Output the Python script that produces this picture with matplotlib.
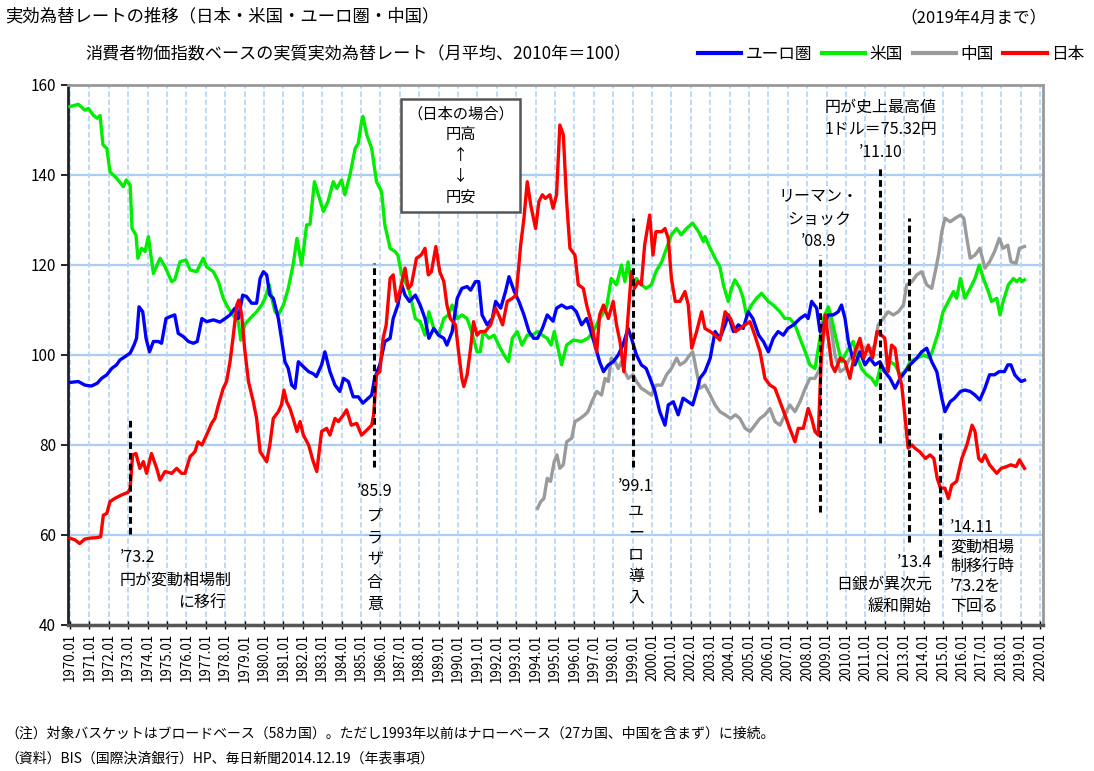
import matplotlib
matplotlib.use("Agg")
from matplotlib import pyplot as plt
from matplotlib.lines import Line2D

plt.rcParams['font.family'] = ['Noto Sans CJK JP', 'DejaVu Sans']

# ---- data (year as decimal, index 2010=100) ----
us_year = [1970.0, 1970.43, 1970.77, 1970.95, 1971.2, 1971.4, 1971.55, 1971.7, 1971.9, 1972.06,
           1972.4, 1972.75, 1972.9, 1973.1, 1973.2, 1973.4, 1973.5, 1973.7, 1973.87, 1974.04,
           1974.3, 1974.64, 1974.9, 1975.24, 1975.4, 1975.67, 1975.98, 1976.19, 1976.53, 1976.7,
           1976.87, 1977.04, 1977.39, 1977.65, 1977.9, 1978.16, 1978.4, 1978.68, 1978.8, 1979.0,
           1979.28, 1979.62, 1979.88, 1980.05, 1980.27, 1980.4, 1980.57, 1980.74, 1981.0, 1981.25,
           1981.5, 1981.7, 1981.94, 1982.2, 1982.37, 1982.6, 1982.8, 1983.06, 1983.3, 1983.57,
           1983.75, 1984.0, 1984.17, 1984.43, 1984.7, 1984.86, 1985.03, 1985.1, 1985.3, 1985.55,
           1985.8, 1986.06, 1986.23, 1986.5, 1986.75, 1986.9, 1987.1, 1987.35, 1987.5, 1987.8,
           1988.05, 1988.3, 1988.5, 1988.75, 1989.0, 1989.27, 1989.5, 1989.7, 1989.96, 1990.2,
           1990.47, 1990.7, 1990.98, 1991.15, 1991.3, 1991.6, 1991.86, 1992.1, 1992.37, 1992.6,
           1992.8, 1993.05, 1993.3, 1993.57, 1993.83, 1994.1, 1994.35, 1994.6, 1994.8, 1994.96,
           1995.08, 1995.34, 1995.6, 1995.94, 1996.37, 1996.7, 1996.97, 1997.3, 1997.65, 1997.9,
           1998.17, 1998.43, 1998.6, 1998.77, 1998.94, 1999.2, 1999.45, 1999.7, 1999.97, 2000.2,
           2000.5, 2000.75, 2001.0, 2001.27, 2001.5, 2001.78, 2002.1, 2002.4, 2002.65, 2002.73,
           2003.0, 2003.25, 2003.5, 2003.68, 2003.93, 2004.1, 2004.27, 2004.53, 2004.7, 2004.87,
           2005.13, 2005.39, 2005.65, 2005.99, 2006.25, 2006.6, 2006.85, 2007.1, 2007.37, 2007.63,
           2007.9, 2008.14, 2008.4, 2008.66, 2008.83, 2009.09, 2009.26, 2009.52, 2009.77, 2010.03,
           2010.37, 2010.55, 2010.8, 2011.06, 2011.32, 2011.55, 2011.75, 2012.0, 2012.27, 2012.53,
           2012.79, 2013.05, 2013.3, 2013.65, 2014.0, 2014.33, 2014.5, 2014.77, 2015.0, 2015.28,
           2015.54, 2015.7, 2015.9, 2016.13, 2016.4, 2016.65, 2016.87, 2017.08, 2017.34, 2017.5,
           2017.77, 2017.94, 2018.1, 2018.37, 2018.63, 2018.8, 2018.97, 2019.06, 2019.2]
us_val = [155.2, 155.7, 154.4, 154.8, 153.3, 152.6, 153.2, 146.7, 145.9, 140.7,
          139.3, 137.4, 138.9, 137.8, 128.1, 126.7, 121.5, 123.7, 123.0, 126.3,
          118.1, 121.5, 119.6, 116.3, 116.7, 120.7, 121.1, 118.9, 118.5, 120.0,
          121.5, 119.6, 118.5, 116.3, 112.6, 110.4, 108.9, 107.4, 103.3, 106.7,
          108.1, 109.6, 111.1, 112.6, 115.6, 112.6, 109.6, 108.9, 111.1, 114.8,
          120.0, 125.9, 120.0, 128.9, 129.0, 138.5, 135.6, 131.9, 134.1, 138.5,
          137.0, 138.9, 135.6, 140.0, 145.9, 147.0, 151.9, 153.0, 148.9, 145.9,
          138.5, 136.3, 128.9, 123.7, 123.0, 122.2, 117.8, 115.6, 114.1, 108.1,
          107.4, 104.4, 109.6, 105.9, 104.4, 108.1, 108.9, 111.1, 108.1, 108.9,
          108.1, 105.2, 100.7, 100.7, 105.2, 103.7, 104.4, 102.2, 100.0, 98.5,
          103.7, 105.2, 102.2, 104.4, 104.4, 105.2, 104.4, 103.7, 102.2, 105.2,
          103.0, 97.8, 102.2, 103.3, 103.0, 103.7, 105.2, 108.1, 110.4, 117.0,
          115.6, 120.0, 116.3, 120.7, 115.6, 117.0, 115.6, 114.8, 115.6, 118.5,
          120.7, 123.7, 126.7, 128.1, 126.7, 128.1, 129.3, 127.4, 125.2, 126.3,
          123.7, 121.5, 119.6, 115.6, 111.9, 114.8, 116.7, 114.8, 112.6, 108.9,
          111.1, 112.6, 113.7, 111.9, 111.1, 109.6, 108.1, 108.1, 106.7, 103.7,
          100.7, 97.8, 97.0, 103.7, 108.1, 110.7, 108.1, 103.0, 98.5, 100.7,
          103.0, 100.0, 97.0, 95.6, 94.8, 93.3, 97.0, 96.3, 98.5, 97.8,
          95.6, 96.3, 98.5, 99.3, 100.0, 99.3, 101.5, 105.2, 109.6, 111.9,
          114.1, 112.6, 117.0, 112.6, 114.8, 117.0, 120.0, 117.0, 114.1, 111.9,
          112.6, 108.9, 111.9, 115.6, 117.0, 116.3, 117.0, 116.3, 116.7]

euro_year = [1970.0, 1970.43, 1970.77, 1971.1, 1971.4, 1971.63, 1971.9, 1972.15, 1972.4, 1972.58,
             1972.83, 1973.1, 1973.3, 1973.43, 1973.56, 1973.75, 1973.92, 1974.1, 1974.3, 1974.55,
             1974.72, 1974.95, 1975.15, 1975.4, 1975.58, 1975.84, 1976.1, 1976.36, 1976.56, 1976.8,
             1977.04, 1977.4, 1977.73, 1978.0, 1978.25, 1978.5, 1978.68, 1978.9, 1979.1, 1979.36,
             1979.62, 1979.8, 1979.97, 1980.14, 1980.3, 1980.48, 1980.74, 1980.9, 1981.08, 1981.25,
             1981.43, 1981.6, 1981.77, 1982.03, 1982.3, 1982.55, 1982.7, 1982.97, 1983.14, 1983.4,
             1983.66, 1983.91, 1984.1, 1984.35, 1984.6, 1984.86, 1985.1, 1985.37, 1985.55, 1985.7,
             1985.97, 1986.23, 1986.5, 1986.66, 1986.9, 1987.1, 1987.27, 1987.5, 1987.8, 1988.05,
             1988.3, 1988.5, 1988.75, 1989.0, 1989.27, 1989.43, 1989.7, 1989.96, 1990.2, 1990.47,
             1990.65, 1990.9, 1991.07, 1991.24, 1991.5, 1991.77, 1991.94, 1992.2, 1992.45, 1992.63,
             1992.9, 1993.14, 1993.4, 1993.66, 1993.9, 1994.1, 1994.35, 1994.6, 1994.9, 1995.08,
             1995.34, 1995.6, 1995.86, 1996.1, 1996.37, 1996.63, 1996.8, 1997.06, 1997.3, 1997.5,
             1997.75, 1998.0, 1998.26, 1998.5, 1998.77, 1998.94, 1999.2, 1999.45, 1999.7, 1999.9,
             2000.15, 2000.4, 2000.67, 2000.84, 2001.1, 2001.35, 2001.6, 2001.87, 2002.1, 2002.3,
             2002.47, 2002.73, 2003.0, 2003.25, 2003.5, 2003.77, 2003.93, 2004.2, 2004.45, 2004.7,
             2004.96, 2005.2, 2005.5, 2005.74, 2006.0, 2006.25, 2006.5, 2006.77, 2007.0, 2007.3,
             2007.63, 2007.9, 2008.05, 2008.23, 2008.49, 2008.66, 2008.83, 2009.09, 2009.35, 2009.6,
             2009.77, 2009.95, 2010.12, 2010.3, 2010.46, 2010.72, 2010.98, 2011.23, 2011.49, 2011.75,
             2012.0, 2012.27, 2012.53, 2012.79, 2013.05, 2013.3, 2013.65, 2013.9, 2014.16, 2014.42,
             2014.68, 2014.94, 2015.1, 2015.37, 2015.6, 2015.9, 2016.13, 2016.4, 2016.65, 2016.9,
             2017.16, 2017.4, 2017.66, 2017.9, 2018.17, 2018.34, 2018.5, 2018.7, 2018.86, 2019.03,
             2019.2]
euro_val = [93.9, 94.1, 93.3, 93.1, 93.7, 94.8, 95.6, 97.0, 97.8, 98.9,
            99.6, 100.4, 102.2, 103.7, 110.7, 109.6, 103.7, 100.7, 103.0, 103.0,
            102.6, 108.1, 108.5, 108.9, 104.8, 104.1, 103.0, 102.6, 103.0, 108.1,
            107.4, 107.8, 107.3, 108.1, 108.9, 110.4, 108.1, 113.3, 113.0, 111.5,
            111.5, 117.0, 118.5, 117.8, 113.3, 112.6, 108.1, 103.7, 98.5, 97.0,
            93.3, 92.6, 98.5, 97.4, 96.3, 95.8, 95.2, 97.8, 100.7, 96.3,
            93.3, 91.9, 94.8, 94.1, 90.7, 90.7, 89.3, 90.4, 91.1, 94.8,
            97.8, 103.0, 103.7, 108.1, 111.1, 115.6, 113.3, 111.9, 113.3, 111.1,
            108.1, 103.7, 105.9, 104.4, 103.7, 102.2, 105.2, 112.6, 114.8, 115.2,
            114.4, 116.3, 116.3, 108.9, 106.7, 108.1, 111.9, 110.4, 114.1, 117.4,
            114.1, 111.9, 108.9, 105.2, 103.7, 103.7, 105.9, 108.9, 107.5, 110.4,
            111.1, 110.4, 110.7, 109.6, 106.7, 108.1, 105.9, 102.2, 98.5, 96.3,
            97.8, 98.5, 100.0, 102.2, 105.9, 103.7, 100.0, 97.8, 97.0, 94.8,
            91.9, 87.4, 84.4, 88.9, 89.6, 86.7, 90.4, 89.6, 88.9, 91.9,
            94.8, 96.3, 99.3, 105.2, 103.7, 106.7, 108.9, 105.2, 106.7, 105.9,
            109.6, 108.1, 104.4, 103.0, 100.7, 103.7, 105.2, 104.4, 105.9, 106.7,
            108.1, 108.9, 108.1, 111.9, 110.4, 105.2, 106.7, 108.9, 108.9, 109.6,
            111.1, 108.1, 103.0, 100.0, 97.8, 100.7, 97.8, 99.3, 97.8, 98.5,
            96.3, 94.8, 92.6, 94.8, 96.3, 97.8, 99.3, 100.7, 101.5, 98.5,
            96.3, 90.4, 87.4, 89.6, 90.4, 91.9, 92.2, 91.9, 91.1, 90.0,
            92.6, 95.6, 95.6, 96.3, 96.3, 97.8, 97.8, 95.6, 94.8, 94.1,
            94.4]

cn_year = [1994.1, 1994.26, 1994.43, 1994.6, 1994.77, 1994.96, 1995.1, 1995.25, 1995.43, 1995.6,
           1995.86, 1996.03, 1996.3, 1996.54, 1996.7, 1996.9, 1997.15, 1997.4, 1997.58, 1997.75,
           1997.9, 1998.1, 1998.26, 1998.43, 1998.6, 1998.77, 1999.03, 1999.2, 1999.45, 1999.7,
           1999.97, 2000.2, 2000.5, 2000.75, 2001.0, 2001.27, 2001.44, 2001.7, 2001.95, 2002.1,
           2002.3, 2002.47, 2002.73, 2003.0, 2003.25, 2003.5, 2003.77, 2004.05, 2004.3, 2004.53,
           2004.8, 2005.05, 2005.3, 2005.57, 2005.82, 2006.08, 2006.34, 2006.6, 2006.85, 2007.1,
           2007.37, 2007.63, 2007.9, 2008.14, 2008.4, 2008.66, 2008.92, 2009.09, 2009.26, 2009.43,
           2009.7, 2009.95, 2010.2, 2010.46, 2010.72, 2010.98, 2011.23, 2011.49, 2011.66, 2011.92,
           2012.17, 2012.44, 2012.7, 2012.96, 2013.13, 2013.4, 2013.65, 2013.9, 2014.16, 2014.42,
           2014.6, 2014.77, 2014.94, 2015.1, 2015.37, 2015.63, 2015.9, 2016.07, 2016.23, 2016.4,
           2016.65, 2016.9, 2017.16, 2017.4, 2017.66, 2017.9, 2018.1, 2018.34, 2018.5, 2018.77,
           2018.94, 2019.2]
cn_val = [65.9, 67.4, 68.1, 72.6, 71.9, 76.3, 77.8, 74.8, 75.6, 80.7,
          81.5, 85.2, 85.9, 86.7, 87.4, 89.6, 91.9, 91.1, 94.8, 94.1,
          99.3, 98.5, 97.0, 98.5, 96.3, 94.8, 95.6, 94.1, 92.6, 91.9,
          91.1, 93.3, 93.3, 95.6, 97.0, 99.3, 97.8, 98.5, 100.0, 100.7,
          96.3, 92.6, 93.3, 91.1, 88.9, 87.4, 86.7, 85.9, 86.7, 85.9,
          83.7, 83.0, 84.4, 85.9, 86.7, 88.1, 85.2, 84.4, 86.7, 88.9,
          87.4, 89.6, 92.6, 94.8, 94.8, 97.0, 106.7, 108.1, 105.2, 100.0,
          96.3, 97.0, 99.3, 100.0, 102.2, 101.5, 100.7, 102.2, 106.7, 108.1,
          109.6, 108.9, 109.6, 111.1, 115.6, 116.3, 117.8, 118.5, 115.6, 114.8,
          118.5, 122.2, 127.4, 130.4, 129.6, 130.4, 131.1, 130.4, 125.9, 121.5,
          122.2, 123.7, 119.3, 120.7, 123.0, 125.9, 123.7, 124.4, 120.7, 120.4,
          123.7, 124.1]

jp_year = [1970.0, 1970.26, 1970.5, 1970.77, 1971.03, 1971.37, 1971.58, 1971.72, 1971.9, 1972.06,
           1972.3, 1972.66, 1973.0, 1973.1, 1973.23, 1973.4, 1973.6, 1973.78, 1973.95, 1974.2,
           1974.47, 1974.64, 1974.9, 1975.24, 1975.5, 1975.75, 1975.93, 1976.19, 1976.44, 1976.6,
           1976.8, 1977.04, 1977.3, 1977.47, 1977.65, 1977.9, 1978.07, 1978.25, 1978.4, 1978.6,
           1978.7, 1978.85, 1979.0, 1979.2, 1979.45, 1979.62, 1979.8, 1979.97, 1980.14, 1980.3,
           1980.48, 1980.74, 1980.9, 1981.03, 1981.17, 1981.34, 1981.5, 1981.7, 1981.86, 1982.03,
           1982.3, 1982.54, 1982.72, 1982.97, 1983.23, 1983.4, 1983.66, 1983.83, 1984.1, 1984.26,
           1984.5, 1984.78, 1985.03, 1985.3, 1985.55, 1985.65, 1985.8, 1985.97, 1986.14, 1986.3,
           1986.5, 1986.66, 1986.83, 1987.0, 1987.27, 1987.44, 1987.6, 1987.86, 1988.1, 1988.3,
           1988.47, 1988.63, 1988.86, 1989.06, 1989.27, 1989.43, 1989.6, 1989.87, 1990.03, 1990.2,
           1990.3, 1990.47, 1990.65, 1990.8, 1990.98, 1991.15, 1991.4, 1991.68, 1991.94, 1992.1,
           1992.3, 1992.54, 1992.8, 1993.0, 1993.23, 1993.4, 1993.57, 1993.75, 1994.0, 1994.17,
           1994.35, 1994.5, 1994.74, 1994.9, 1995.08, 1995.25, 1995.43, 1995.6, 1995.77, 1996.03,
           1996.2, 1996.46, 1996.63, 1996.9, 1997.15, 1997.3, 1997.5, 1997.75, 1998.0, 1998.17,
           1998.35, 1998.55, 1998.77, 1998.94, 1999.1, 1999.28, 1999.45, 1999.62, 1999.88, 2000.05,
           2000.2, 2000.5, 2000.67, 2000.84, 2001.0, 2001.2, 2001.44, 2001.7, 2001.87, 2002.05,
           2002.3, 2002.56, 2002.73, 2003.0, 2003.25, 2003.5, 2003.77, 2004.05, 2004.3, 2004.53,
           2004.8, 2005.05, 2005.3, 2005.57, 2005.82, 2006.08, 2006.34, 2006.6, 2006.85, 2007.1,
           2007.37, 2007.54, 2007.8, 2008.05, 2008.23, 2008.4, 2008.57, 2008.74, 2008.92, 2009.09,
           2009.26, 2009.43, 2009.7, 2009.95, 2010.2, 2010.46, 2010.72, 2010.92, 2011.15, 2011.37,
           2011.6, 2011.83, 2012.0, 2012.17, 2012.35, 2012.53, 2012.7, 2012.87, 2013.05, 2013.2,
           2013.4, 2013.55, 2013.8, 2014.1, 2014.33, 2014.53, 2014.7, 2014.87, 2015.1, 2015.28,
           2015.45, 2015.7, 2015.97, 2016.23, 2016.5, 2016.65, 2016.84, 2017.0, 2017.16, 2017.4,
           2017.77, 2018.0, 2018.28, 2018.5, 2018.77, 2018.94, 2019.2]
jp_val = [59.3, 58.9, 58.1, 59.1, 59.3, 59.4, 59.6, 64.4, 64.8, 67.4,
          68.1, 68.9, 69.5, 70.4, 77.8, 78.1, 74.8, 76.3, 73.7, 78.1,
          74.8, 72.2, 74.1, 73.7, 74.8, 73.7, 73.7, 77.4, 78.5, 80.7,
          80.0, 82.2, 84.8, 85.9, 88.9, 92.6, 94.1, 98.5, 103.7, 111.1,
          112.2, 108.9, 101.5, 94.1, 89.6, 85.9, 78.5, 77.4, 76.3, 80.0,
          85.9, 87.4, 88.9, 92.2, 89.6, 88.1, 85.9, 83.0, 85.2, 82.2,
          80.0, 76.3, 74.1, 83.0, 83.7, 82.2, 85.9, 85.2, 86.7, 87.8,
          84.4, 84.8, 82.2, 83.3, 84.4, 86.7, 95.6, 96.3, 103.7, 106.7,
          117.0, 117.8, 111.9, 114.1, 119.3, 114.8, 115.6, 121.5, 122.2, 123.7,
          117.8, 118.5, 124.1, 118.5, 116.3, 111.1, 108.1, 106.7, 100.7, 94.8,
          93.0, 95.6, 101.5, 107.4, 104.4, 105.2, 105.2, 106.7, 110.4, 108.9,
          106.7, 111.9, 112.6, 113.3, 124.4, 130.4, 138.5, 133.3, 128.1, 134.1,
          135.6, 134.8, 135.6, 132.6, 135.6, 151.1, 148.9, 134.1, 123.7, 122.2,
          115.6, 114.8, 111.1, 106.7, 100.7, 108.9, 111.1, 108.1, 111.9, 106.7,
          103.0, 96.3, 108.9, 118.5, 114.8, 116.3, 115.6, 124.4, 131.1, 122.2,
          127.4, 127.4, 128.1, 125.9, 117.0, 111.9, 111.9, 114.1, 111.1, 101.5,
          105.2, 109.6, 105.9, 105.2, 104.4, 103.3, 109.6, 108.1, 105.2, 105.9,
          106.7, 107.4, 104.4, 100.7, 94.8, 93.3, 92.6, 89.6, 86.7, 83.7,
          80.7, 83.7, 83.7, 88.1, 85.9, 83.0, 82.2, 100.7, 108.9, 103.7,
          97.8, 96.3, 99.3, 98.5, 94.8, 100.7, 103.7, 99.3, 102.2, 99.3,
          105.2, 104.4, 103.7, 96.3, 102.2, 101.5, 96.3, 93.3, 85.9, 79.3,
          80.0, 79.3, 78.5, 77.0, 77.8, 77.0, 72.6, 70.4, 70.4, 68.1,
          71.1, 71.9, 77.0, 80.0, 84.4, 83.0, 77.0, 76.3, 77.8, 75.6,
          73.7, 74.8, 75.2, 75.6, 75.2, 76.7, 74.8]

# event dates ('73.2, '85.9, '99.1, '08.9, '11.10, '13.4, '14.11) and extent of dashed markers
event_year = [1973 + 1/12, 1985 + 8/12, 1999.0, 2008 + 8/12, 2011 + 9/12, 2013 + 3/12, 2014 + 10/12]
event_lo = [60.3, 75.2, 75.2, 65.2, 80.4, 58.5, 55.1]
event_hi = [85.6, 120.4, 130.4, 122.2, 142.2, 130.4, 82.7]

years = list(range(1970, 2021))
tick_labels = [f"{y}.01" for y in years]

fig = plt.figure(figsize=(10.94, 7.71), dpi=100)
ax = fig.add_axes([0.0622, 0.1894, 0.8911, 0.7004])

ax.set_xlim(1969.9, 2020.15)
ax.set_ylim(40, 160)

# grid
for y in range(40, 161, 20):
    ax.axhline(y, color='#a9cdf3', lw=1.6, zorder=0)
for y in years:
    ax.axvline(y, color='#b8d7f5', lw=1.3, ls=(0, (3, 1.5)), zorder=0)

ax.plot(cn_year, cn_val, color='#9a9a9a', lw=2.4, zorder=3)
ax.plot(us_year, us_val, color='#00ee00', lw=2.4, zorder=4)
ax.plot(euro_year, euro_val, color='#0000ff', lw=2.4, zorder=5)
ax.plot(jp_year, jp_val, color='#ff0000', lw=2.4, zorder=6)

ax.vlines(event_year, event_lo, event_hi, colors='black', lw=2.2, linestyles=(0, (2.2, 1.3)), zorder=7)

ax.set_yticks(range(40, 161, 20))
ax.tick_params(axis='y', labelsize=11, length=5, width=1.2, direction='out')
ax.set_xticks(years)
ax.set_xticklabels(tick_labels, rotation=90, fontsize=9.6)
ax.tick_params(axis='x', length=6, width=1.0, direction='inout', pad=3)

ax.spines['left'].set_linewidth(2.0)
ax.spines['left'].set_color('#222222')
ax.spines['bottom'].set_linewidth(2.5)
ax.spines['bottom'].set_color('#555555')
ax.spines['top'].set_linewidth(2.0)
ax.spines['top'].set_color('#999999')
ax.spines['right'].set_linewidth(2.0)
ax.spines['right'].set_color('#999999')

fs = 11.5
# '73.2
ax.text(1972.58, 55.1, "’73.2", fontsize=fs, va='center', ha='left')
ax.text(1972.58, 50.0, "円が変動相場制", fontsize=fs, va='center', ha='left')
ax.text(1975.57, 44.9, "に移行", fontsize=fs, va='center', ha='left')
# '85.9
ax.text(1985.72, 69.6, "’85.9", fontsize=fs, va='center', ha='center')
ax.text(1985.72, 54.4, "プ\nラ\nザ\n合\n意", fontsize=fs, va='center', ha='center', linespacing=1.4)
# '99.1
ax.text(1999.18, 70.7, "’99.1", fontsize=fs, va='center', ha='center')
ax.text(1999.18, 55.6, "ユ\nー\nロ\n導\n入", fontsize=fs, va='center', ha='center', linespacing=1.35)
# Lehman
ax.text(2008.6, 130.2, "リーマン・\nショック\n’08.9", fontsize=fs, va='center', ha='center', linespacing=1.45)
# record high yen
ax.text(2011.8, 150.0, "円が史上最高値\n1ドル＝75.32円\n’11.10", fontsize=fs, va='center', ha='center',
        linespacing=1.4)
# '13.4
ax.text(2014.43, 48.9, "’13.4\n日銀が異次元\n緩和開始", fontsize=fs, va='center', ha='right', linespacing=1.4)
# '14.11
ax.text(2015.36, 52.9, "’14.11\n変動相場\n制移行時\n’73.2を\n下回る", fontsize=fs, va='center', ha='left',
        linespacing=1.2)

# explanatory box
ax.text(1990.15, 144.3, "（日本の場合）\n円高\n↑\n↓\n円安", fontsize=11, va='center', ha='center',
        linespacing=1.3,
        bbox=dict(boxstyle='square,pad=0.4', facecolor='white', edgecolor='#555555', lw=1.8))

# titles
fig.text(0.005, 0.979, "実効為替レートの推移（日本・米国・ユーロ圏・中国）", fontsize=12.5, va='center', ha='left')
fig.text(0.957, 0.977, "（2019年4月まで）", fontsize=12, va='center', ha='right')
fig.text(0.078, 0.929, "消費者物価指数ベースの実質実効為替レート（月平均、2010年＝100）", fontsize=12.3,
         va='center', ha='left')

handles = [Line2D([], [], color='#0000ff', lw=3),
           Line2D([], [], color='#00ee00', lw=3),
           Line2D([], [], color='#9a9a9a', lw=3),
           Line2D([], [], color='#ff0000', lw=3)]
fig.legend(handles, ['ユーロ圏', '米国', '中国', '日本'], ncol=4, loc='center right',
           bbox_to_anchor=(1.0, 0.929), frameon=False, fontsize=12, handlelength=2.6,
           handletextpad=0.25, columnspacing=0.6, borderaxespad=0.2)

# notes
fig.text(0.005, 0.049, "（注）対象バスケットはブロードベース（58カ国）。ただし1993年以前はナローベース（27カ国、中国を含まず）に接続。",
         fontsize=10, va='center', ha='left')
fig.text(0.005, 0.016, "（資料）BIS（国際決済銀行）HP、毎日新聞2014.12.19（年表事項）", fontsize=10,
         va='center', ha='left')

fig.savefig("out.png", dpi=100)
